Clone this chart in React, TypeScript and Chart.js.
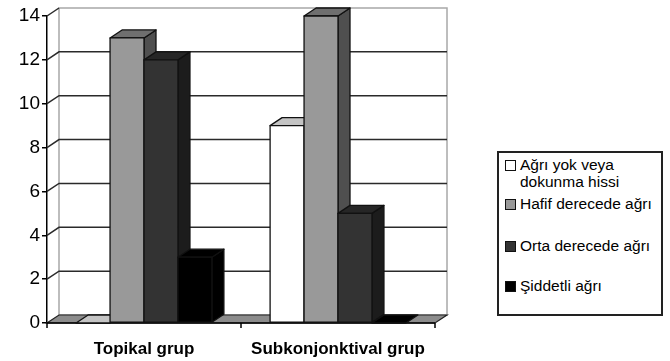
import React, { useEffect, useRef } from "react";
import { Chart, registerables } from "chart.js";

Chart.register(...registerables);

const categories = ["Topikal grup", "Subkonjonktival grup"];
const seriesNames = ["Ağrı yok veya dokunma hissi", "Hafif derecede ağrı", "Orta derecede ağrı", "Şiddetli ağrı"];
const agriYok = [0, 9];
const hafif = [13, 14];
const orta = [12, 5];
const siddetli = [3, 0];
const yTicks = [0, 2, 4, 6, 8, 10, 12, 14];

const frontColors = ["#ffffff", "#999999", "#333333", "#000000"];
const topColors = ["#c4c4c4", "#6f6f6f", "#262626", "#000000"];
const sideColors = ["#c4c4c4", "#4f4f4f", "#1c1c1c", "#000000"];

const DX = 12;
const DY = -8;

const threeD = {
  id: "threeD",
  beforeDatasetsDraw(chart: any) {
    const { ctx, chartArea } = chart;
    const { left, right, top, bottom } = chartArea;
    const y = chart.scales.y;
    ctx.save();
    // back wall
    ctx.fillStyle = "#ffffff";
    ctx.fillRect(left + DX, top + DY, right - left, bottom - top);
    ctx.strokeStyle = "#a8a8a8";
    ctx.lineWidth = 1.5;
    ctx.strokeRect(left + DX, top + DY, right - left, bottom - top);
    // gridlines
    ctx.strokeStyle = "#2a2a2a";
    ctx.lineWidth = 1.5;
    yTicks.forEach((v) => {
      if (v === 0) return;
      const py = y.getPixelForValue(v);
      ctx.beginPath();
      ctx.moveTo(left, py);
      ctx.lineTo(left + DX, py + DY);
      if (v !== 14) ctx.lineTo(right + DX, py + DY);
      ctx.stroke();
    });
    // floor
    ctx.beginPath();
    ctx.moveTo(left, bottom);
    ctx.lineTo(right, bottom);
    ctx.lineTo(right + DX, bottom + DY);
    ctx.lineTo(left + DX, bottom + DY);
    ctx.closePath();
    ctx.fillStyle = "#8c8c8c";
    ctx.fill();
    ctx.strokeStyle = "#222222";
    ctx.lineWidth = 1.2;
    ctx.stroke();
    // x tick marks
    ctx.strokeStyle = "#000000";
    ctx.lineWidth = 1.5;
    const n = categories.length;
    const cw = (right - left) / n;
    for (let i = 0; i <= n; i++) {
      const px = left + cw * i;
      ctx.beginPath();
      ctx.moveTo(px, bottom);
      ctx.lineTo(px, bottom + 5);
      ctx.stroke();
    }
    ctx.beginPath();
    ctx.moveTo(left, bottom);
    ctx.lineTo(right, bottom);
    ctx.stroke();
    ctx.restore();
  },
  afterDatasetsDraw(chart: any) {
    const { ctx } = chart;
    ctx.save();
    ctx.strokeStyle = "#111111";
    ctx.lineWidth = 1.3;
    ctx.lineJoin = "round";
    const nData = categories.length;
    const nSets = chart.data.datasets.length;
    for (let di = 0; di < nData; di++) {
      for (let i = 0; i < nSets; i++) {
        const meta = chart.getDatasetMeta(i);
        const bar = meta.data[di];
        if (!bar) continue;
        const p = bar.getProps(["x", "y", "base", "width"], true);
        const l = p.x - p.width / 2;
        const r = p.x + p.width / 2;
        const t = Math.min(p.y, p.base);
        const b = Math.max(p.y, p.base);
        const h = b - t;
        // side
        if (h > 0.5) {
          ctx.beginPath();
          ctx.moveTo(r, t);
          ctx.lineTo(r + DX, t + DY);
          ctx.lineTo(r + DX, b + DY);
          ctx.lineTo(r, b);
          ctx.closePath();
          ctx.fillStyle = sideColors[i];
          ctx.fill();
          ctx.stroke();
        }
        // top
        ctx.beginPath();
        ctx.moveTo(l, t);
        ctx.lineTo(l + DX, t + DY);
        ctx.lineTo(r + DX, t + DY);
        ctx.lineTo(r, t);
        ctx.closePath();
        ctx.fillStyle = topColors[i];
        ctx.fill();
        ctx.stroke();
        // front
        if (h > 0.5) {
          ctx.beginPath();
          ctx.rect(l, t, r - l, h);
          ctx.fillStyle = frontColors[i];
          ctx.fill();
          ctx.stroke();
        }
      }
    }
    ctx.restore();
  },
};

export default function App() {
  const ref = useRef<HTMLCanvasElement | null>(null);
  useEffect(() => {
    document.body.style.margin = "0";
    const chart = new Chart(ref.current as HTMLCanvasElement, {
      type: "bar",
      data: {
        labels: categories,
        datasets: [agriYok, hafif, orta, siddetli].map((d, i) => ({
          label: seriesNames[i],
          data: d,
          backgroundColor: "rgba(0,0,0,0)",
          borderColor: "rgba(0,0,0,0)",
          borderWidth: 0,
          categoryPercentage: 0.7,
          barPercentage: 1.0,
        })),
      },
      options: {
        responsive: false,
        animation: false,
        layout: { padding: { top: 16, right: 235, left: 0, bottom: 0 } },
        plugins: { legend: { display: false }, tooltip: { enabled: false } },
        scales: {
          y: {
            min: 0,
            max: 14,
            ticks: {
              stepSize: 2,
              color: "#000000",
              padding: 2,
              font: { family: "'Liberation Sans', Arial, sans-serif", size: 19 },
            },
            grid: { drawOnChartArea: false, drawTicks: true, tickLength: 5, color: "#000000", lineWidth: 1.5 },
            border: { color: "#000000", width: 1.5 },
            afterFit: (s: any) => {
              s.width = 47;
            },
          },
          x: {
            ticks: {
              color: "#000000",
              padding: 8,
              font: { family: "'Liberation Sans', Arial, sans-serif", size: 17, weight: "bold" },
            },
            grid: { display: false },
            border: { display: false },
            afterFit: (s: any) => {
              s.height = 38;
            },
          },
        },
      },
      plugins: [threeD],
    } as any);
    return () => chart.destroy();
  }, []);

  const legendFont: React.CSSProperties = {
    position: "absolute",
    fontFamily: "'Liberation Sans', Arial, sans-serif",
    fontSize: 15.5,
    color: "#000",
    whiteSpace: "nowrap",
    lineHeight: "17px",
  };
  const sq = (c: string, top: number): React.CSSProperties => ({
    position: "absolute",
    left: 6,
    top,
    width: 9,
    height: 9,
    background: c,
    border: "1.5px solid #111",
  });
  const items = [
    { lines: ["Ağrı yok veya", "dokunma hissi"], top: 3 },
    { lines: ["Hafif derecede ağrı"], top: 42 },
    { lines: ["Orta derecede ağrı"], top: 84 },
    { lines: ["Şiddetli ağrı"], top: 124 },
  ];

  return (
    <div style={{ position: "relative", width: 670, height: 361, background: "#fff" }}>
      <canvas ref={ref} width={670} height={361} style={{ position: "absolute", left: 0, top: 0 }} />
      <div
        style={{
          position: "absolute",
          left: 497,
          top: 151,
          width: 162,
          height: 161,
          border: "2px solid #222",
          background: "#fff",
        }}
      >
        {items.map((it, i) => (
          <React.Fragment key={i}>
            <div style={sq(frontColors[i], it.top + 4)} />
            <div style={{ ...legendFont, left: 21, top: it.top }}>
              {it.lines.map((l, j) => (
                <div key={j}>{l}</div>
              ))}
            </div>
          </React.Fragment>
        ))}
      </div>
    </div>
  );
}
